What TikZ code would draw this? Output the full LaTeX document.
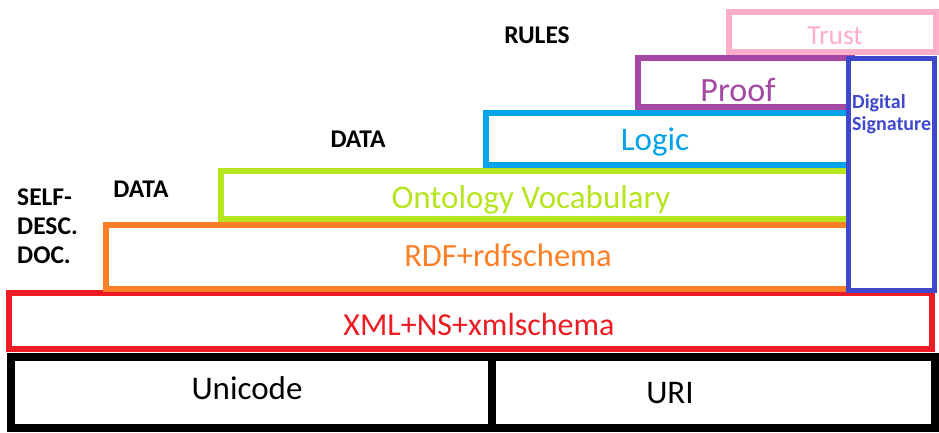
\documentclass[tikz,border=0pt]{standalone}
\usepackage{fontspec}
\setmainfont{Carlito}

\definecolor{trustpink}{HTML}{FFAEC9}
\definecolor{proofpurple}{HTML}{A349A4}
\definecolor{logicblue}{HTML}{00A2E8}
\definecolor{ontogreen}{HTML}{B5E61D}
\definecolor{rdforange}{HTML}{FF7F27}
\definecolor{xmlred}{HTML}{ED1C24}
\definecolor{signblue}{HTML}{3F48CC}

\tikzset{
  layer/.style={line width=6pt, draw=#1, fill=white},
  layertext/.style={inner sep=0pt, anchor=base, font=\fontsize{#1}{#1}\selectfont},
  sidetext/.style={inner sep=0pt, anchor=base, font=\fontsize{25.5}{29}\selectfont\bfseries}
}

\begin{document}
\begin{tikzpicture}[x=1pt, y=-1pt]
    \useasboundingbox (0,0) rectangle (939,432);

    % Unicode and URI base
    \draw[line width=8pt] (11,357) rectangle (935,428);
    \draw[line width=8pt] (492,357) -- (492,428);
    \node[layertext=33] (unicode) at (247,399) {Unicode};
    \node[layertext=33] (uri) at (670,403) {URI};

    % XML layer
    \draw[layer=xmlred] (9,293) rectangle (932,349);
    \node[layertext=32] [text=xmlred] (xml) at (479,335) {XML+NS+xmlschema};

    % RDF layer
    \draw[layer=rdforange] (106,225) rectangle (852,289);
    \node[layertext=32.5] [text=rdforange] (rdf) at (508,266) {RDF+rdfschema};

    % Ontology layer
    \draw[layer=ontogreen] (221,171) rectangle (852,219);
    \node[layertext=33] [text=ontogreen] (onto) at (531,208) {Ontology Vocabulary};

    % Logic layer
    \draw[layer=logicblue] (486,113) rectangle (852,165);
    \node[layertext=33] [text=logicblue] (logic) at (655,150) {Logic};

    % Proof layer
    \draw[layer=proofpurple] (638,58) rectangle (852,107);
    \node[layertext=34] [text=proofpurple] (proof) at (738,101) {Proof};

    % Trust layer
    \draw[layer=trustpink] (729,12) rectangle (936,52);
    \node[layertext=27.5] [text=trustpink] (trust) at (835,44) {Trust};

    % Digital signature column
    \draw[line width=5pt, draw=signblue, fill=white] (848.5,58.5) rectangle (934.5,290.5);
    \node[inner sep=0pt, anchor=base west, text=signblue, align=left,
          font=\fontsize{20}{22}\selectfont\bfseries] (sign) at (852,130) {Digital\\Signature};

    % Side labels
    \node[sidetext] (rules) at (537,43) {RULES};
    \node[sidetext] (data1) at (358,147) {DATA};
    \node[sidetext] (data2) at (141,197) {DATA};
    \node[sidetext, anchor=base west, align=left] (selfdoc) at (17,263) {SELF-\\DESC.\\DOC.};
\end{tikzpicture}
\end{document}
